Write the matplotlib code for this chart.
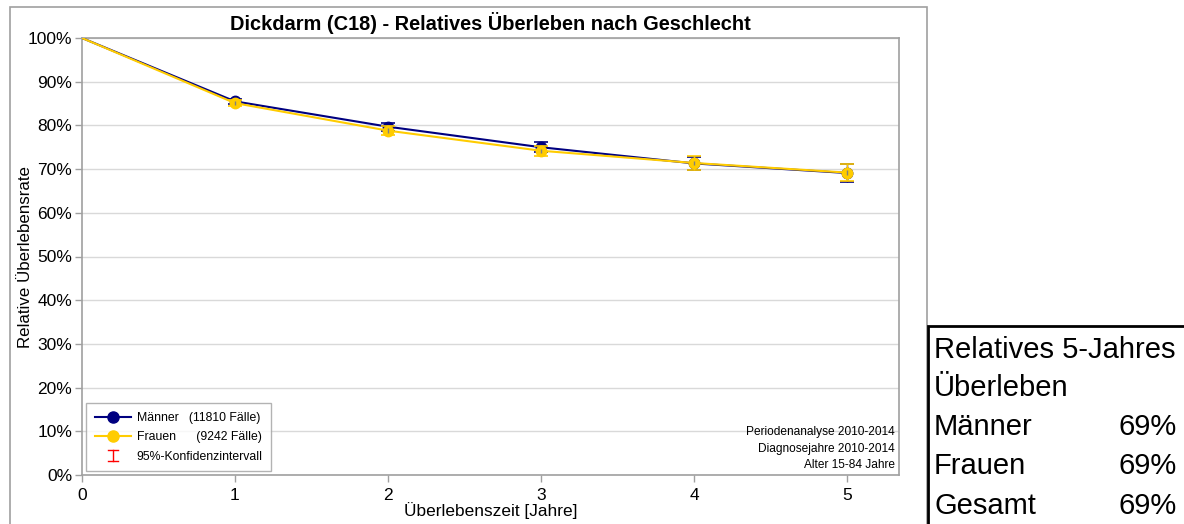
import matplotlib
matplotlib.use("Agg")
import matplotlib.pyplot as plt
from matplotlib.patches import Rectangle
from matplotlib.lines import Line2D
from matplotlib.legend_handler import HandlerBase
from matplotlib.ticker import PercentFormatter

plt.rcParams['font.family'] = ['Liberation Sans', 'DejaVu Sans']

years = [0, 1, 2, 3, 4, 5]
maenner = [100, 85.5, 79.7, 75.0, 71.3, 69.1]
frauen = [100, 85.1, 78.8, 74.2, 71.4, 69.2]
maenner_ci = [0, 0.6, 0.9, 1.2, 1.5, 2.0]
frauen_ci = [0, 0.7, 1.0, 1.2, 1.5, 1.9]
y_ticks = [0, 10, 20, 30, 40, 50, 60, 70, 80, 90, 100]
x_ticks = [0, 1, 2, 3, 4, 5]
legend_labels = ["Männer   (11810 Fälle)", "Frauen      (9242 Fälle)", "95%-Konfidenzintervall"]
info_lines = ["Periodenanalyse 2010-2014", "Diagnosejahre 2010-2014", "Alter 15-84 Jahre"]
box_rows = [("Männer", "69%"), ("Frauen", "69%"), ("Gesamt", "69%")]

W, H = 1184, 524
fig = plt.figure(figsize=(W / 100, H / 100), dpi=100)

def fx(px):
    return px / W

def fy(py):
    return 1 - py / H

# outer chart frame
fig.patches.append(Rectangle((fx(9.5), fy(535)), fx(926.5) - fx(9.5), fy(6.5) - fy(535),
                             transform=fig.transFigure, fill=False, edgecolor='#a0a0a0', lw=1.2))

ax = fig.add_axes([fx(82), fy(475), fx(899) - fx(82), fy(38) - fy(475)])
navy = '#000080'
yellow = '#FFCC00'

ax.plot(years, maenner, color=navy, lw=1.5, zorder=3)
ax.plot(years[1:], maenner[1:], 'o', color=navy, ms=7.5, zorder=4)
ax.errorbar(years[1:], maenner[1:], yerr=maenner_ci[1:], fmt='none', ecolor=navy,
            elinewidth=1, capsize=5, capthick=1.2, zorder=5)
ax.plot(years, frauen, color=yellow, lw=1.5, zorder=6)
ax.plot(years[1:], frauen[1:], 'o', color=yellow, ms=7.5, zorder=7)
ax.errorbar(years[1:], frauen[1:], yerr=frauen_ci[1:], fmt='none', ecolor=yellow,
            elinewidth=1, capsize=5, capthick=1.2, zorder=8)
ax.errorbar(years[1:], frauen[1:], yerr=[0.5] * 5, fmt='none', ecolor='#808080',
            elinewidth=1, zorder=9)

ax.set_xlim(0, 5.34)
ax.set_ylim(0, 100)
ax.set_xticks(x_ticks)
ax.set_yticks(y_ticks)
ax.yaxis.set_major_formatter(PercentFormatter(decimals=0))
ax.grid(axis='y', color='#d9d9d9', lw=1)
ax.set_axisbelow(True)
for s in ax.spines.values():
    s.set_color('#a0a0a0')
    s.set_linewidth(1.2)
ax.tick_params(axis='both', colors='#a0a0a0', labelcolor='black', labelsize=12.5, length=5, width=1)
ax.tick_params(axis='y', pad=2)
ax.tick_params(axis='x', pad=4)

ax.set_title("Dickdarm (C18) - Relatives Überleben nach Geschlecht", fontsize=14.4,
             fontweight='bold', pad=6)
ax.set_xlabel("Überlebenszeit [Jahre]", fontsize=12.4, labelpad=0)
ax.set_ylabel("Relative Überlebensrate", fontsize=12.2)
ax.yaxis.set_label_coords(-0.06, 0.5)


class CIHandler(HandlerBase):
    def create_artists(self, legend, orig_handle, xdescent, ydescent, width, height,
                       fontsize, trans):
        cx = width / 2 - xdescent
        h = height * 1.3
        y0 = height / 2 - ydescent - h / 2
        y1 = y0 + h
        cw = width * 0.14
        arts = [
            Line2D([cx, cx], [y0, y1], color='red', lw=1, transform=trans),
            Line2D([cx - cw, cx + cw], [y0, y0], color='red', lw=1, transform=trans),
            Line2D([cx - cw, cx + cw], [y1, y1], color='red', lw=1, transform=trans),
        ]
        return arts


ci_handle = Rectangle((0, 0), 1, 1)
handles = [
    Line2D([0], [0], color=navy, marker='o', ms=8, lw=1.5),
    Line2D([0], [0], color=yellow, marker='o', ms=8, lw=1.5),
    ci_handle,
]
leg = ax.legend(handles, legend_labels, loc='lower left', bbox_to_anchor=(0.002, 0.003),
                fontsize=8.8, frameon=True, fancybox=False, edgecolor='#a0a0a0',
                handlelength=3.0, borderpad=0.7, labelspacing=0.6, handletextpad=0.45,
                borderaxespad=0.2, handler_map={Rectangle: CIHandler()})
leg.get_frame().set_linewidth(1)

for i, t in enumerate(info_lines):
    ax.text(0.995, 0.098 - i * 0.0375, t, transform=ax.transAxes, ha='right', va='center',
            fontsize=8.6)

# right summary box
fig.patches.append(Rectangle((fx(928.5), fy(535)), fx(1195) - fx(928.5), fy(326) - fy(535),
                             transform=fig.transFigure, fill=False, edgecolor='black', lw=2))
fs = 21
fig.text(fx(934), fy(350), "Relatives 5-Jahres", fontsize=fs, ha='left', va='center')
fig.text(fx(934), fy(388), "Überleben", fontsize=fs, ha='left', va='center')
for i, (name, val) in enumerate(box_rows):
    y = 427 + i * 39.5
    fig.text(fx(934), fy(y), name, fontsize=fs, ha='left', va='center')
    fig.text(fx(1177), fy(y), val, fontsize=fs, ha='right', va='center')

fig.savefig("out.png", dpi=100)
